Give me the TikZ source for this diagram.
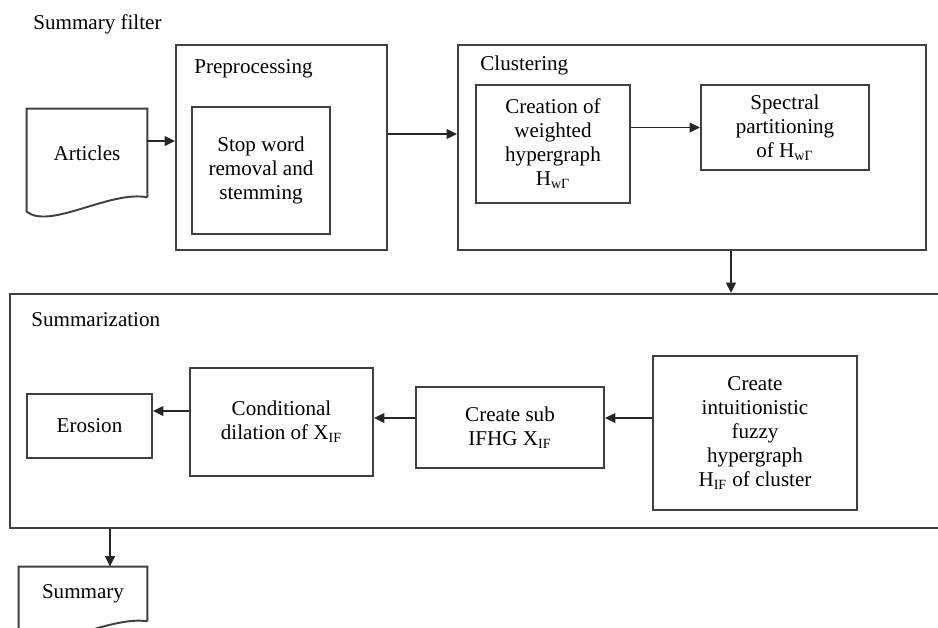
\documentclass[tikz,border=0pt]{standalone}
\usepackage{fontspec}
\setmainfont{Liberation Serif}
\usetikzlibrary{arrows.meta}

\begin{document}
\begin{tikzpicture}[x=0.02cm, y=-0.02cm,
    box/.style={rectangle, draw=black!75, line width=1.1pt, align=center, font=\fontsize{12}{13.6}\selectfont},
    doc/.style={rectangle, align=center, font=\fontsize{12}{13.6}\selectfont},
    title/.style={anchor=base west, inner sep=0pt, font=\fontsize{12}{13.6}\selectfont},
    docline/.style={draw=black!75, line width=1.1pt},
    arr/.style={-{Triangle[length=6pt, width=5.5pt]}, line width=1.1pt, black!85}]
    \useasboundingbox (0,0) rectangle (938,627);
    \clip (0,0) rectangle (938,627);

    % Whole filter
    \node[title] (filtertitle) at (33,29) {Summary filter};

    % Input document
    \node[doc, minimum width=2.4cm, minimum height=1.76cm] (articles) at (87,153) {Articles};
    \draw[docline] (articles.south east) -- (articles.north east) -- (articles.north west) -- ++(0,103)
        .. controls (50,230) and (110,190) .. (articles.south east);

    % Preprocessing
    \node[box, minimum width=4.22cm, minimum height=4.1cm] (prep) at (281.5,147.5) {};
    \node[title] (preptitle) at (194,73) {Preprocessing};
    \node[box, minimum width=2.76cm, minimum height=2.54cm] (stopword) at (261,170.5) {Stop word\\removal and\\stemming};

    % Clustering
    \node[box, minimum width=9.36cm, minimum height=4.1cm] (clust) at (692,147.5) {};
    \node[title] (clusttitle) at (480,70) {Clustering};
    \node[box, minimum width=3.08cm, minimum height=2.36cm] (creation) at (553,144) {Creation of\\weighted\\hypergraph\\H\textsubscript{wΓ}};
    \node[box, minimum width=3.36cm, minimum height=1.7cm] (spectral) at (785,127.5) {Spectral\\partitioning\\of H\textsubscript{wΓ}};

    % Summarization
    \node[box, minimum width=18.8cm, minimum height=4.68cm] (summ) at (480,411) {};
    \node[title] (summtitle) at (31,326) {Summarization};
    \node[box, minimum width=2.5cm, minimum height=1.28cm] (erosion) at (89.5,426) {Erosion};
    \node[box, minimum width=3.66cm, minimum height=2.16cm] (cond) at (281.5,422) {Conditional\\dilation of X\textsubscript{IF}};
    \node[box, minimum width=3.76cm, minimum height=1.62cm] (subifhg) at (510,427.5) {Create sub\\IFHG X\textsubscript{IF}};
    \node[box, minimum width=4.08cm, minimum height=3.08cm] (intuit) at (755,433) {Create\\intuitionistic\\fuzzy\\hypergraph\\H\textsubscript{IF} of cluster};

    % Output document
    \node[doc, minimum width=2.56cm, minimum height=1.08cm] (summary) at (83,594) {Summary};
    \draw[docline] (summary.south east) -- (summary.north east) -- (summary.north west) -- ++(0,70)
        .. controls (44,655) and (110,615) .. (summary.south east);

    % Arrows
    \draw[arr] ([yshift=0.24cm]articles.east) -- ([yshift=0.24cm]articles.east -| prep.west);
    \draw[arr] ([yshift=0.27cm]prep.east) -- ([yshift=0.27cm]prep.east -| clust.west);
    \draw[arr] (creation.east |- spectral.west) -- (spectral.west);
    \draw[arr] ([xshift=0.78cm]clust.south) -- ([xshift=0.78cm]clust.south |- summ.north);
    \draw[arr] ([yshift=0.3cm]intuit.west) -- ([yshift=0.3cm]intuit.west -| subifhg.east);
    \draw[arr] ([yshift=0.19cm]subifhg.west) -- ([yshift=0.19cm]subifhg.west -| cond.east);
    \draw[arr] ([yshift=0.22cm]cond.west) -- ([yshift=0.22cm]cond.west -| erosion.east);
    \draw[arr] ([xshift=0.54cm]summary.north |- summ.south) -- ([xshift=0.54cm]summary.north);
\end{tikzpicture}
\end{document}
